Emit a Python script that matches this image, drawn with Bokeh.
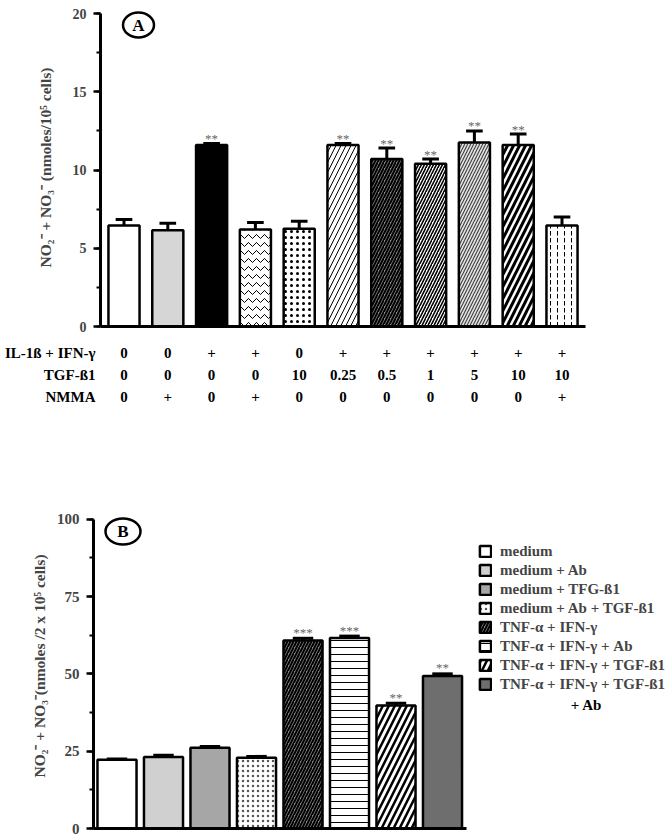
from bokeh.plotting import figure
from bokeh.models import (Range1d, FixedTicker, SingleIntervalTicker, ColumnDataSource,
                          Legend, LegendItem)
from bokeh.core.properties import value
from bokeh.embed import file_html
from bokeh.resources import INLINE

# ---------------- data: panel A ----------------
a_values = [6.45, 6.15, 11.6, 6.2, 6.25, 11.6, 10.7, 10.4, 11.75, 11.6, 6.45]
a_errors = [0.38, 0.45, 0.1, 0.45, 0.48, 0.1, 0.7, 0.3, 0.75, 0.7, 0.55]
a_stars = ["", "", "**", "", "", "**", "**", "**", "**", "**", ""]
a_row_labels = ["IL-1ß + IFN-γ", "TGF-ß1", "NMMA"]
a_il1_ifn = ["0", "0", "+", "+", "0", "+", "+", "+", "+", "+", "+"]
a_tgf = ["0", "0", "0", "0", "10", "0.25", "0.5", "1", "5", "10", "10"]
a_nmma = ["0", "+", "0", "+", "0", "0", "0", "0", "0", "0", "+"]
a_ylabel = "NO₂⁻ + NO₃⁻ (nmoles/10⁵ cells)"

# ---------------- data: panel B ----------------
b_labels = ["medium", "medium + Ab", "medium + TFG-ß1", "medium + Ab + TGF-ß1",
            "TNF-α + IFN-γ", "TNF-α + IFN-γ + Ab", "TNF-α + IFN-γ + TGF-ß1",
            "TNF-α + IFN-γ + TGF-ß1"]
b_label_cont = "+ Ab"
b_values = [22.2, 23.1, 26.1, 22.9, 60.8, 61.6, 39.8, 49.3]
b_errors = [0.3, 0.6, 0.4, 0.4, 0.7, 0.6, 0.7, 0.7]
b_stars = ["", "", "", "", "***", "***", "**", "**"]
b_ylabel = "NO₂⁻ + NO₃⁻(nmoles /2 x 10⁵ cells)"

# ---------------- styles ----------------
FONT = value("Liberation Serif")
a_fill = ["white", "#d6d6d6", "black", "white", "white", "white", "#8a8a8a", "white", "#e6e6e6", "white", "white"]
a_hatch = [" ", " ", " ", "v", ".", "/", "/", "/", "/", "/", ":"]
a_hscale = [8, 8, 8, 8, 6, 10, 6, 6, 6, 12, 7]
a_hweight = [1, 1, 1, 1, 1.5, 1, 2, 1.6, 1.2, 3, 1]
a_hcolor = ["black", "black", "black", "black", "black", "black", "black", "black", "#444444", "black", "black"]

b_fill = ["white", "#d0d0d0", "#a6a6a6", "white", "#8a8a8a", "white", "white", "#6e6e6e"]
b_hatch = [" ", " ", " ", ".", "/", "-", "/", " "]
b_hscale = [8, 8, 8, 5, 6, 7, 12, 8]
b_hweight = [1, 1, 1, 1, 2, 1, 2.5, 1]
b_hcolor = ["black", "black", "black", "#555555", "black", "black", "black", "black"]

W = 670

# ---------------- geometry (pixels) ----------------
HA = 338
A_LEFT, A_RIGHT, A_BASE, A_TOP = 100, 585, 326, 8
A_C1, A_PITCH = 123.5, 43.8
A_PPU = 313 / 20.0
HT = 165
HB = 837 - HA - HT
B_LEFT, B_BASE, B_AXEND = 93, 325, 466
B_C1, B_PITCH = 116.5, 46.5
B_PPU = 309.3 / 100.0


def style_axes(p, size, label_standoff):
    for ax in p.yaxis:
        ax.axis_line_width = 3
        ax.major_tick_line_width = 2.5
        ax.major_tick_out = 7
        ax.major_tick_in = 0
        ax.minor_tick_out = 4
        ax.minor_tick_in = 0
        ax.minor_tick_line_width = 2
        ax.major_label_text_font = "Liberation Serif"
        ax.major_label_text_font_style = "bold"
        ax.major_label_text_font_size = size
        ax.major_label_standoff = 7
        ax.axis_label_text_font = "Liberation Serif"
        ax.axis_label_text_font_style = "bold"
        ax.axis_label_text_font_size = "15.5px"
        ax.axis_label_standoff = label_standoff
    for ax in p.xaxis:
        ax.axis_line_width = 3
        ax.ticker = FixedTicker(ticks=[])
        ax.major_tick_out = 0
        ax.major_tick_in = 0
        ax.minor_tick_out = 0
        ax.minor_tick_in = 0
        ax.major_label_standoff = 0
    p.grid.visible = False
    p.outline_line_color = None


# ================= panel A =================
na = len(a_values)
ax_pos = [i + 1 for i in range(na)]
xa0 = 1 + (A_LEFT - A_C1) / A_PITCH
xa1 = 1 + (A_RIGHT - A_C1) / A_PITCH
pa = figure(width=W, height=HA, output_backend="svg", toolbar_location=None,
            x_range=Range1d(xa0, xa1), y_range=Range1d(0, (A_BASE - A_TOP) / A_PPU),
            min_border_left=A_LEFT, min_border_right=W - A_RIGHT,
            min_border_top=A_TOP, min_border_bottom=HA - A_BASE)
pa.yaxis.ticker = SingleIntervalTicker(interval=5, num_minor_ticks=2)
pa.yaxis.bounds = (0, 20)
pa.yaxis.axis_label = a_ylabel
style_axes(pa, "14px", 16)

src_a = ColumnDataSource(dict(
    x=ax_pos, top=a_values, fill=a_fill, hatch=a_hatch, hs=a_hscale, hw=a_hweight, hc=a_hcolor,
    etop=[v + e for v, e in zip(a_values, a_errors)],
    cx0=[x - 0.19 for x in ax_pos], cx1=[x + 0.19 for x in ax_pos], star=a_stars))
pa.vbar(x="x", top="top", bottom=0, width=0.71, source=src_a, fill_color="fill",
        line_color="black", line_width=2.5, hatch_pattern="hatch", hatch_scale="hs",
        hatch_weight="hw", hatch_color="hc")
pa.segment(x0="x", y0="top", x1="x", y1="etop", source=src_a, line_color="black", line_width=3)
pa.segment(x0="cx0", y0="etop", x1="cx1", y1="etop", source=src_a, line_color="black", line_width=3)
pa.text(x="x", y="etop", text="star", source=src_a, text_align="center", text_baseline="middle",
        y_offset=-5, text_font=FONT, text_font_size="13px", text_color="#666666")

axc = 1 + (138 - A_C1) / A_PITCH
ayc = (A_BASE - 24.5) / A_PPU
pa.ellipse(x=[axc], y=[ayc], width=31, height=25, width_units="screen", height_units="screen",
           fill_color=None, line_color="black", line_width=2.5)
pa.text(x=[axc], y=[ayc], text=["A"], text_align="center", text_baseline="middle",
        text_font=FONT, text_font_style="bold", text_font_size="17px", text_color="black")

# ================= table under panel A =================
pt = figure(width=W, height=HT, output_backend="svg", toolbar_location=None,
            x_range=Range1d(1 + (0 - A_C1) / A_PITCH, 1 + (W - A_C1) / A_PITCH),
            y_range=Range1d(HT, 0), x_axis_location=None, y_axis_location=None,
            min_border_left=0, min_border_right=0, min_border_top=0, min_border_bottom=0)
pt.grid.visible = False
pt.outline_line_color = None
row_y = [14, 36, 58]
for ry, lab, vals in zip(row_y, a_row_labels, [a_il1_ifn, a_tgf, a_nmma]):
    pt.text(x=ax_pos, y=[ry] * na, text=vals, text_align="center", text_baseline="middle",
            text_font=FONT, text_font_style="bold", text_font_size="15px", text_color="black")
    pt.text(x=[1 + (95 - A_C1) / A_PITCH], y=[ry], text=[lab], text_align="right",
            text_baseline="middle", text_font=FONT, text_font_style="bold",
            text_font_size="15px", text_color="black")

# ================= panel B =================
nb = len(b_values)
bx_pos = [i + 1 for i in range(nb)]
xb0 = 1 + (B_LEFT - B_C1) / B_PITCH
xb1 = 1 + (W - B_C1) / B_PITCH
pb = figure(width=W, height=HB, output_backend="svg", toolbar_location=None,
            x_range=Range1d(xb0, xb1), y_range=Range1d(0, B_BASE / B_PPU),
            min_border_left=B_LEFT, min_border_right=0, min_border_top=0,
            min_border_bottom=HB - B_BASE)
pb.yaxis.ticker = SingleIntervalTicker(interval=25, num_minor_ticks=2)
pb.yaxis.bounds = (0, 100)
pb.xaxis.bounds = (xb0, 1 + (B_AXEND - B_C1) / B_PITCH)
pb.yaxis.axis_label = b_ylabel
style_axes(pb, "15px", 6)

src_b = ColumnDataSource(dict(
    x=bx_pos, top=b_values, fill=b_fill, hatch=b_hatch, hs=b_hscale, hw=b_hweight, hc=b_hcolor,
    etop=[v + e for v, e in zip(b_values, b_errors)],
    cx0=[x - 0.22 for x in bx_pos], cx1=[x + 0.22 for x in bx_pos], star=b_stars))
rb = pb.vbar(x="x", top="top", bottom=0, width=0.84, source=src_b, fill_color="fill",
             line_color="black", line_width=2.5, hatch_pattern="hatch", hatch_scale="hs",
             hatch_weight="hw", hatch_color="hc")
pb.segment(x0="x", y0="top", x1="x", y1="etop", source=src_b, line_color="black", line_width=3)
pb.segment(x0="cx0", y0="etop", x1="cx1", y1="etop", source=src_b, line_color="black", line_width=3)
pb.text(x="x", y="etop", text="star", source=src_b, text_align="center", text_baseline="middle",
        y_offset=-6, text_font=FONT, text_font_size="13px", text_color="#666666")

B_TOP_PAGE = HA + HT
bxc = 1 + (122.5 - B_C1) / B_PITCH
byc = (B_BASE - (531 - B_TOP_PAGE)) / B_PPU
pb.ellipse(x=[bxc], y=[byc], width=35, height=26, width_units="screen", height_units="screen",
           fill_color=None, line_color="black", line_width=2.5)
pb.text(x=[bxc], y=[byc], text=["B"], text_align="center", text_baseline="middle",
        text_font=FONT, text_font_style="bold", text_font_size="17px", text_color="black")

leg_top = 551 - 9.5 - B_TOP_PAGE
legend = Legend(items=[LegendItem(label=lab, renderers=[rb], index=i) for i, lab in enumerate(b_labels)],
                location=(478 - B_LEFT, B_BASE - (leg_top + 8 * 19)),
                glyph_width=14, glyph_height=14, label_standoff=8, spacing=0, label_height=19,
                padding=0, margin=0, border_line_color=None, background_fill_alpha=0,
                label_text_font="Liberation Serif", label_text_font_style="bold",
                label_text_font_size="15px")
pb.add_layout(legend)
pb.text(x=[1 + (586 - B_C1) / B_PITCH], y=[(B_BASE - (704 - B_TOP_PAGE)) / B_PPU], text=[b_label_cont],
        text_align="center", text_baseline="middle", text_font=FONT, text_font_style="bold",
        text_font_size="15px", text_color="black")

open("out.html", "w").write(file_html([pa, pt, pb], INLINE))
